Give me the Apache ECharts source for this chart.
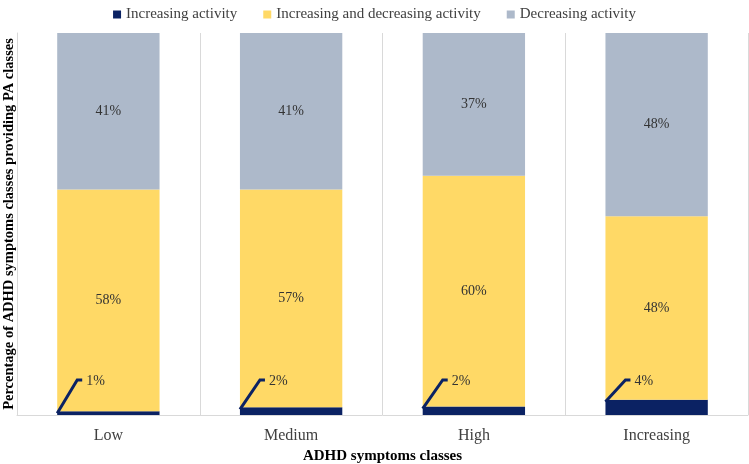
<!DOCTYPE html>
<html lang="en">
  <head>
    <meta charset="UTF-8" />
    <script src="https://cdn.jsdelivr.net/npm/echarts@6/dist/echarts.min.js"></script>
    <title>ADHD symptoms classes</title>
    <style>
      html, body { margin: 0; padding: 0; background: #fff; }
      #app { width: 749px; height: 464px; }
    </style>
  </head>
  <body>
    <div id="app"></div>

    <script>
      const categories = ["Low", "Medium", "High", "Increasing"];
      const increasingActivity = [1, 2, 2.2, 4];
      const incDecActivity = [58, 57, 60.4, 48];
      const decreasingActivity = [41, 41, 37.4, 48];

      const navy = "#0b2263";
      const serif = "Liberation Serif";
      const pct = (p) => Math.round(p.value) + "%";

      const chart = echarts.init(document.getElementById("app"));

      chart.setOption({
        animation: false,
        textStyle: { fontFamily: serif },
        legend: {
          top: 2,
          left: "center",
          icon: "rect",
          itemWidth: 8,
          itemHeight: 8,
          itemGap: 26,
          data: ["Increasing activity", "Increasing and decreasing activity", "Decreasing activity"],
          textStyle: { fontFamily: serif, fontSize: 15, color: "#404040" },
        },
        grid: { left: 17, right: 1, top: 33, bottom: 49, outerBoundsMode: "none", containLabel: false },
        xAxis: {
          type: "category",
          data: categories,
          name: "ADHD symptoms classes",
          nameLocation: "middle",
          nameGap: 28,
          nameTextStyle: { fontFamily: serif, fontSize: 15, fontWeight: "bold", color: "#000" },
          axisLine: { lineStyle: { color: "#d9d9d9" } },
          axisTick: { show: false },
          axisLabel: { fontFamily: serif, fontSize: 16, color: "#404040", margin: 13 },
          splitLine: { show: true, lineStyle: { color: "#d9d9d9" } },
        },
        yAxis: {
          type: "value",
          min: 0,
          max: 100,
          name: "Percentage of ADHD symptoms classes providing PA classes",
          nameLocation: "middle",
          nameGap: 0,
          nameTextStyle: { fontFamily: serif, fontSize: 14.5, fontWeight: "bold", color: "#000" },
          axisLine: { show: true, lineStyle: { color: "#d9d9d9" } },
          axisTick: { show: false },
          axisLabel: { show: false },
          splitLine: { show: false },
        },
        series: [
          {
            name: "Increasing activity",
            type: "bar",
            stack: "total",
            barWidth: "56%",
            itemStyle: { color: navy },
            data: increasingActivity,
          },
          {
            name: "Increasing and decreasing activity",
            type: "bar",
            stack: "total",
            itemStyle: { color: "#ffd966" },
            label: { show: true, position: "inside", formatter: pct, fontFamily: serif, fontSize: 14, color: "#333" },
            data: incDecActivity,
          },
          {
            name: "Decreasing activity",
            type: "bar",
            stack: "total",
            itemStyle: { color: "#adb9ca" },
            label: { show: true, position: "inside", formatter: pct, fontFamily: serif, fontSize: 14, color: "#333" },
            data: decreasingActivity,
          },
          {
            // leader lines + labels for the small navy segments
            type: "custom",
            silent: true,
            z: 5,
            encode: { x: 0, y: 1 },
            data: increasingActivity.map((v, i) => [i, v]),
            renderItem(params, api) {
              const i = api.value(0);
              const v = api.value(1);
              const base = api.coord([i, 0]);
              const top = api.coord([i, v]);
              const band = api.size([1, 0])[0];
              const left = base[0] - band * 0.28;
              const y0 = top[1] + 2;
              const y1 = base[1] - 35;
              return {
                type: "group",
                children: [
                  {
                    type: "polyline",
                    shape: { points: [[left, y0], [left + 20, y1], [left + 25, y1]] },
                    style: { stroke: navy, lineWidth: 3, fill: null },
                  },
                  {
                    type: "text",
                    style: {
                      text: Math.round(v) + "%",
                      x: left + 29,
                      y: y1 + 1,
                      verticalAlign: "middle",
                      fontFamily: serif,
                      fontSize: 14,
                      fill: "#333",
                    },
                  },
                ],
              };
            },
          },
        ],
      });
    </script>
  </body>
</html>
